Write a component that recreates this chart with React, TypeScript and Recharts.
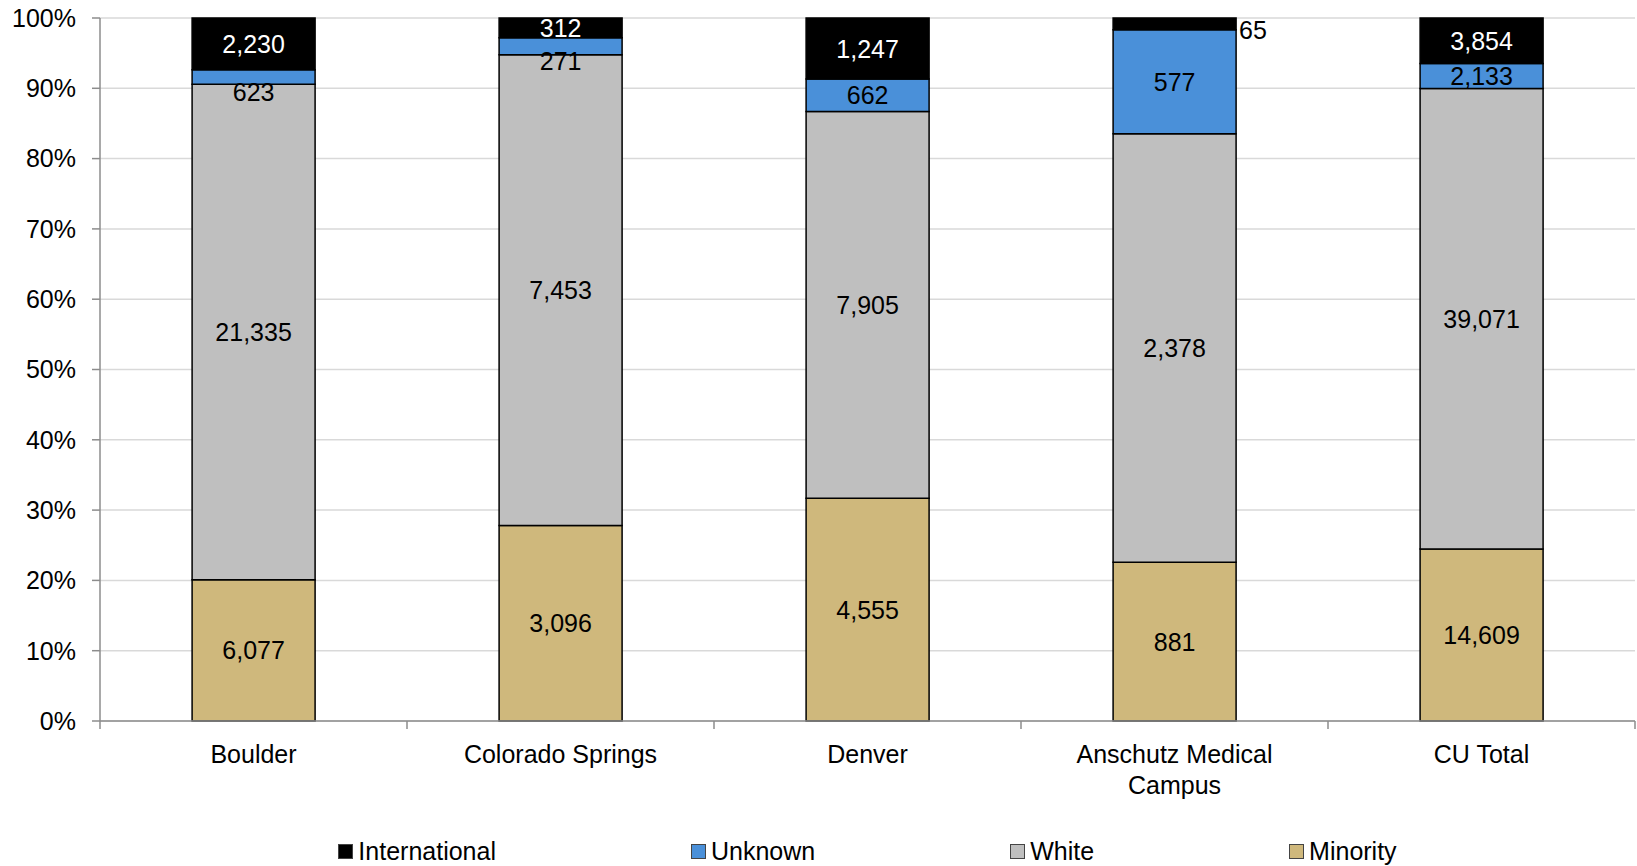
import { BarChart, Bar, XAxis, YAxis, CartesianGrid, Legend, LabelList } from 'recharts';

const campuses = ['Boulder', 'Colorado Springs', 'Denver', 'Anschutz Medical Campus', 'CU Total'];
const minority = [6077, 3096, 4555, 881, 14609];
const white = [21335, 7453, 7905, 2378, 39071];
const unknown = [623, 271, 662, 577, 2133];
const international = [2230, 312, 1247, 65, 3854];
const yTicks = [0, 0.1, 0.2, 0.3, 0.4, 0.5, 0.6, 0.7, 0.8, 0.9, 1];

const data = campuses.map((campus, i) => ({
  campus,
  minority: minority[i],
  white: white[i],
  unknown: unknown[i],
  international: international[i],
}));

const W = 1637;
const H = 866;
const LEFT = 100;
const RIGHT = 2;
const STEP = (W - LEFT - RIGHT) / campuses.length;
const FONT = '"Liberation Sans", Arial, sans-serif';
const AXIS = '#8c8c8c';

const series = [
  { key: 'international', name: 'International', color: '#000000' },
  { key: 'unknown', name: 'Unknown', color: '#4a90d9' },
  { key: 'white', name: 'White', color: '#bfbfbf' },
  { key: 'minority', name: 'Minority', color: '#cfb87c' },
];

const fmt = (v: number) => v.toLocaleString('en-US');

// greedy word wrap by character count
const wrap = (s: string, max = 18) => {
  const lines: string[] = [];
  let cur = '';
  s.split(' ').forEach((w) => {
    if (cur && (cur + ' ' + w).length > max) {
      lines.push(cur);
      cur = w;
    } else {
      cur = cur ? cur + ' ' + w : w;
    }
  });
  if (cur) lines.push(cur);
  return lines;
};

const makeLabel = (kind: string) => (props: any) => {
  const { x, y, width, height, value } = props;
  let tx = x + width / 2;
  let ty = y + height / 2;
  let anchor: 'middle' | 'start' = 'middle';
  let fill = '#000';
  if (kind === 'international') {
    if (height < 16) {
      // too thin, put it beside the bar
      tx = x + width + 3;
      ty = y + height / 2 + 6;
      anchor = 'start';
    } else {
      fill = '#fff';
    }
  }
  if (kind === 'unknown' && height < 20) {
    ty = y + height / 2 + 15;
  }
  return (
    <text x={tx} y={ty} dy="0.36em" textAnchor={anchor} fill={fill} fontSize={25} fontFamily={FONT}>
      {fmt(Number(value))}
    </text>
  );
};

const CampusTick = (props: any) => {
  const { x, y, payload, index } = props;
  const lines = wrap(String(payload.value));
  return (
    <g>
      <line x1={x - STEP / 2} x2={x - STEP / 2} y1={y} y2={y + 8} stroke={AXIS} strokeWidth={1.5} />
      {index === campuses.length - 1 && (
        <line x1={x + STEP / 2} x2={x + STEP / 2} y1={y} y2={y + 8} stroke={AXIS} strokeWidth={1.5} />
      )}
      <text x={x} y={y + 42} textAnchor="middle" fontSize={25} fontFamily={FONT} fill="#000">
        {lines.map((l, i) => (
          <tspan key={i} x={x} dy={i === 0 ? 0 : 31}>
            {l}
          </tspan>
        ))}
      </text>
    </g>
  );
};

const renderLegend = () => (
  <div
    style={{
      display: 'flex',
      justifyContent: 'center',
      alignItems: 'center',
      gap: 195,
      paddingLeft: LEFT,
      height: 30,
      fontFamily: FONT,
      fontSize: 25,
      color: '#000',
    }}
  >
    {series.map((s) => (
      <div key={s.key} style={{ display: 'flex', alignItems: 'center' }}>
        <span
          style={{
            display: 'inline-block',
            width: 13,
            height: 13,
            background: s.color,
            border: '1px solid #444',
            marginRight: 5,
          }}
        />
        <span>{s.name}</span>
      </div>
    ))}
  </div>
);

export default function App() {
  return (
    <div style={{ position: 'absolute', left: 0, top: 0, width: W, height: H, background: '#fff' }}>
      <BarChart
        width={W}
        height={H}
        data={data}
        stackOffset="expand"
        barCategoryGap="30%"
        margin={{ top: 18, right: RIGHT, left: 0, bottom: 0 }}
      >
        <CartesianGrid vertical={false} stroke="#d9d9d9" strokeWidth={1.5} />
        <XAxis
          dataKey="campus"
          height={115}
          axisLine={{ stroke: AXIS, strokeWidth: 1.5 }}
          tickLine={false}
          tickSize={0}
          tickMargin={0}
          interval={0}
          tick={<CampusTick />}
        />
        <YAxis
          width={LEFT}
          domain={[0, 1]}
          ticks={yTicks}
          tickFormatter={(v: number) => `${Math.round(v * 100)}%`}
          axisLine={{ stroke: AXIS, strokeWidth: 1.5 }}
          tickLine={{ stroke: AXIS, strokeWidth: 1.5 }}
          tickSize={8}
          tickMargin={16}
          tick={{ fill: '#000', fontSize: 25, fontFamily: FONT }}
        />
        <Legend verticalAlign="bottom" content={renderLegend} />
        {[...series].reverse().map((s) => (
          <Bar
            key={s.key}
            dataKey={s.key}
            name={s.name}
            stackId="a"
            fill={s.color}
            stroke="#000"
            strokeWidth={1.5}
            isAnimationActive={false}
          >
            <LabelList dataKey={s.key} content={makeLabel(s.key)} />
          </Bar>
        ))}
      </BarChart>
    </div>
  );
}
